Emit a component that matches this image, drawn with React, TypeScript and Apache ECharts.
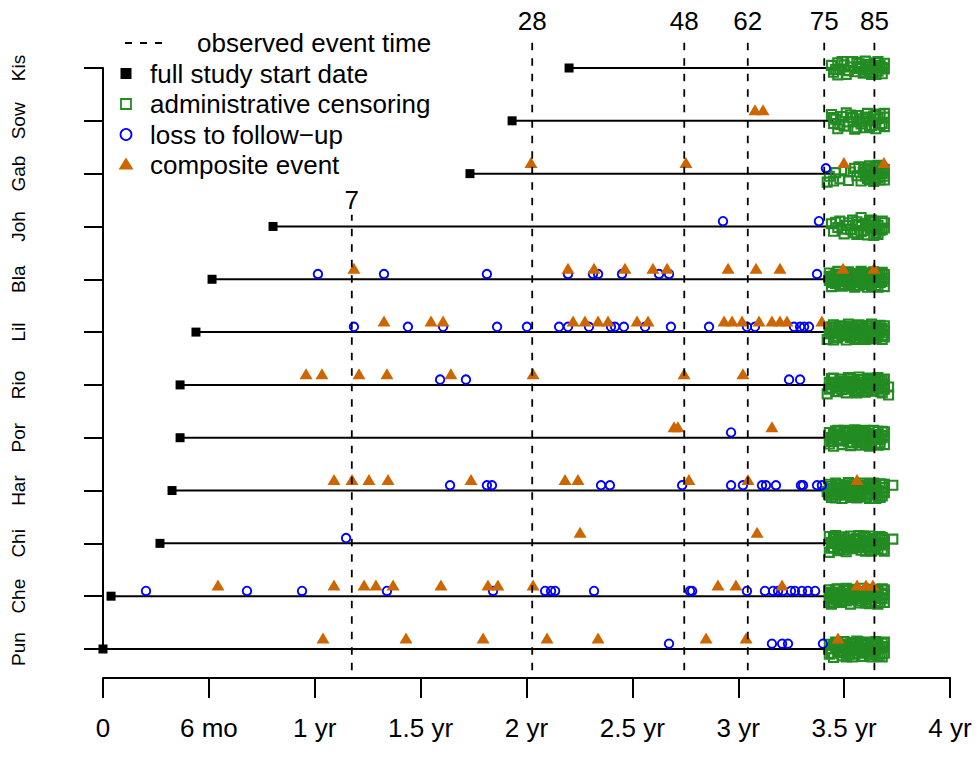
import React, { useEffect, useRef } from "react";
import * as echarts from "echarts";

// Sites, bottom (row 1) to top (row 12)
const sites = ["Pun", "Che", "Chi", "Har", "Por", "Rio", "Lil", "Bla", "Joh", "Gab", "Sow", "Kis"];

// Full study start date (years)
const startDates = [0.0, 0.038, 0.269, 0.326, 0.364, 0.364, 0.439, 0.515, 0.803, 1.733, 1.932, 2.201];
// End of follow-up line (years)
const followEnd = [3.45, 3.45, 3.45, 3.45, 3.45, 3.45, 3.45, 3.45, 3.45, 3.45, 3.45, 3.45];

// Loss to follow-up times (years), per site
const lossTimes = [
  [2.673, 3.159, 3.207, 3.235, 3.4],
  [0.203, 0.68, 0.94, 1.341, 1.842, 2.088, 2.116, 2.135, 2.319, 2.772, 2.782, 3.041, 3.126, 3.164, 3.188, 3.211, 3.249, 3.268, 3.301, 3.329, 3.363],
  [1.148],
  [1.639, 1.813, 1.837, 2.352, 2.394, 2.735, 2.966, 3.022, 3.112, 3.131, 3.178, 3.296, 3.306, 3.372, 3.395],
  [2.966],
  [1.592, 1.714, 3.24, 3.292],
  [1.185, 1.44, 1.606, 1.861, 2.002, 2.154, 2.196, 2.295, 2.399, 2.418, 2.46, 2.56, 2.682, 2.862, 3.041, 3.079, 3.263, 3.292, 3.311, 3.334],
  [1.015, 1.327, 1.813, 2.196, 2.314, 2.338, 2.451, 2.626, 2.673, 3.372],
  [2.928, 3.381],
  [3.414],
  [],
  [],
];

// Composite event times (years), per site
const eventTimes = [
  [1.039, 1.431, 1.795, 2.097, 2.338, 2.848, 3.037, 3.471],
  [0.543, 1.091, 1.233, 1.289, 1.37, 1.596, 1.818, 1.865, 2.031, 2.904, 2.989, 3.207, 3.561, 3.603, 3.636],
  [2.253, 3.089],
  [1.091, 1.176, 1.256, 1.346, 1.738, 2.182, 2.243, 2.767, 3.046, 3.561],
  [2.697, 2.715, 3.159],
  [0.959, 1.034, 1.209, 1.341, 1.643, 2.031, 2.744, 3.022],
  [1.327, 1.549, 1.606, 2.22, 2.276, 2.338, 2.385, 2.522, 2.574, 2.933, 2.971, 3.018, 3.098, 3.159, 3.197, 3.23, 3.395],
  [1.185, 2.196, 2.319, 2.465, 2.597, 2.664, 2.952, 3.084, 3.197, 3.495, 3.641],
  [],
  [2.021, 2.753, 3.499, 3.688],
  [3.079, 3.117],
  [],
];

// Administrative censoring: [time (years), vertical jitter (rows)]
const censorPun = [[3.43,0.09],[3.43,-0.10],[3.44,0.00],[3.45,-0.16],[3.46,0.13],[3.47,-0.05],[3.48,0.07],[3.49,-0.13],[3.50,0.14],[3.51,0.01],[3.52,-0.10],[3.53,0.10],[3.54,-0.15],[3.55,0.04],[3.56,0.15],[3.57,-0.08],[3.58,0.08],[3.59,-0.14],[3.60,0.02],[3.61,0.13],[3.62,-0.11],[3.63,0.06],[3.64,-0.04],[3.65,0.14],[3.66,-0.14],[3.67,0.03],[3.68,0.11],[3.69,-0.08],[3.68,-0.15],[3.45,0.07],[3.48,-0.07],[3.51,-0.15],[3.54,0.12],[3.57,0.02],[3.60,-0.07],[3.63,-0.15],[3.66,0.08],[3.69,0.04],[3.47,0.11],[3.53,-0.03],[3.59,0.11],[3.62,0.00],[3.65,-0.09],
  [3.44,-0.08],[3.46,0.04],[3.49,0.03],[3.50,-0.06],[3.52,0.05],[3.55,-0.10],[3.56,-0.02],[3.58,-0.03],[3.61,-0.06],[3.64,0.10],[3.66,0.00],[3.67,-0.10],[3.69,0.13],[3.47,0.01],[3.54,0.00],[3.60,0.09],[3.63,0.00],[3.57,0.13],[3.51,0.09],[3.68,0.03]];
const censorChe = [[3.43,-0.03],[3.43,0.12],[3.44,-0.15],[3.45,0.05],[3.46,-0.07],[3.47,0.14],[3.48,-0.12],[3.49,0.02],[3.50,0.11],[3.51,-0.09],[3.52,0.06],[3.53,-0.15],[3.54,0.13],[3.55,-0.01],[3.56,0.09],[3.57,-0.13],[3.58,0.04],[3.59,0.15],[3.60,-0.06],[3.61,0.10],[3.62,-0.14],[3.63,0.01],[3.64,0.13],[3.65,-0.10],[3.66,0.06],[3.67,-0.04],[3.68,0.14],[3.69,-0.12],[3.69,0.03],[3.45,-0.11],[3.48,0.08],[3.51,0.15],[3.54,-0.07],[3.57,0.07],[3.60,0.03],[3.63,-0.11],[3.66,-0.15],[3.68,-0.05],[3.46,0.13],[3.52,-0.03],[3.58,-0.09],[3.64,0.09],[3.55,0.12],
  [3.44,0.07],[3.46,0.02],[3.47,-0.04],[3.49,-0.08],[3.50,0.00],[3.53,0.05],[3.56,-0.05],[3.57,0.01],[3.59,0.05],[3.61,-0.02],[3.62,0.08],[3.65,0.02],[3.66,0.11],[3.67,-0.12],[3.69,0.12],[3.43,-0.12],[3.52,0.12],[3.60,-0.13],[3.63,0.07],[3.68,0.06]];
const censorChi = [[3.43,0.13],[3.43,-0.17],[3.44,0.02],[3.45,-0.08],[3.46,0.15],[3.47,-0.14],[3.48,0.05],[3.49,-0.04],[3.50,0.12],[3.51,-0.16],[3.52,0.03],[3.53,0.14],[3.54,-0.10],[3.55,0.07],[3.56,-0.02],[3.57,0.15],[3.58,-0.13],[3.59,0.04],[3.60,0.11],[3.61,-0.07],[3.62,0.14],[3.63,-0.15],[3.64,0.01],[3.65,0.09],[3.66,-0.11],[3.67,0.13],[3.68,-0.03],[3.69,0.07],[3.69,-0.15],[3.73,0.08],[3.45,0.09],[3.48,-0.11],[3.51,0.08],[3.54,0.00],[3.57,-0.08],[3.60,-0.15],[3.63,0.06],[3.66,0.10],[3.68,-0.12],[3.47,-0.02],[3.53,-0.06],[3.59,0.14],[3.62,-0.05],[3.50,-0.12],
  [3.44,-0.09],[3.46,0.04],[3.48,0.12],[3.49,0.07],[3.52,-0.08],[3.55,-0.06],[3.56,0.10],[3.58,0.00],[3.61,0.06],[3.62,-0.12],[3.64,-0.08],[3.65,-0.03],[3.67,0.00],[3.69,0.01],[3.51,0.00],[3.57,0.05],[3.60,0.02],[3.66,-0.02],[3.68,0.11],[3.45,0.00]];
const censorHar = [[3.42,-0.02],[3.43,0.12],[3.44,-0.13],[3.45,0.04],[3.46,0.14],[3.47,-0.08],[3.48,0.07],[3.49,-0.15],[3.50,0.11],[3.51,-0.03],[3.52,0.15],[3.53,-0.11],[3.54,0.03],[3.55,0.13],[3.56,-0.14],[3.57,0.06],[3.58,-0.05],[3.59,0.14],[3.60,-0.12],[3.61,0.02],[3.62,0.12],[3.63,-0.07],[3.64,0.08],[3.65,-0.15],[3.66,0.01],[3.67,0.13],[3.68,-0.10],[3.69,0.06],[3.69,-0.04],[3.73,0.10],[3.44,0.08],[3.47,0.02],[3.50,-0.09],[3.53,0.08],[3.56,-0.03],[3.59,0.04],[3.62,-0.15],[3.65,0.10],[3.68,0.12],[3.46,-0.14],[3.52,-0.06],[3.58,0.10],[3.64,-0.05],[3.67,-0.13],
  [3.43,-0.09],[3.45,-0.07],[3.47,0.11],[3.49,0.03],[3.51,0.06],[3.53,0.00],[3.55,-0.08],[3.57,-0.11],[3.58,0.02],[3.60,0.07],[3.61,-0.08],[3.63,0.03],[3.64,0.14],[3.66,-0.09],[3.68,-0.02],[3.69,0.12],[3.54,-0.13],[3.62,0.05],[3.48,-0.04],[3.56,0.09]];
const censorPor = [[3.43,0.10],[3.43,-0.12],[3.44,0.01],[3.45,-0.16],[3.46,0.13],[3.47,-0.05],[3.48,0.07],[3.49,-0.13],[3.50,0.14],[3.51,-0.02],[3.52,0.09],[3.53,-0.15],[3.54,0.04],[3.55,0.15],[3.56,-0.09],[3.57,0.06],[3.58,-0.14],[3.59,0.12],[3.60,-0.04],[3.61,0.09],[3.62,-0.16],[3.63,0.03],[3.64,0.14],[3.65,-0.11],[3.66,0.06],[3.67,-0.03],[3.68,0.12],[3.69,-0.13],[3.69,0.04],[3.45,0.06],[3.48,-0.06],[3.51,0.11],[3.54,-0.10],[3.57,-0.01],[3.60,0.14],[3.63,-0.08],[3.66,-0.14],[3.68,0.00],[3.47,0.14],[3.53,0.01],[3.59,-0.07],[3.64,-0.03],[3.56,0.12],
  [3.44,-0.07],[3.46,0.04],[3.47,0.07],[3.49,-0.02],[3.50,0.05],[3.52,-0.08],[3.55,0.00],[3.56,0.03],[3.58,0.05],[3.61,0.00],[3.62,0.07],[3.63,-0.13],[3.65,0.02],[3.66,0.12],[3.67,-0.10],[3.69,0.11],[3.48,0.13],[3.54,0.10],[3.60,-0.11],[3.45,-0.03]];
const censorRio = [[3.42,-0.17],[3.43,0.05],[3.44,-0.06],[3.45,0.13],[3.46,-0.13],[3.47,0.02],[3.48,0.11],[3.49,-0.09],[3.50,0.07],[3.51,-0.15],[3.52,0.14],[3.53,-0.03],[3.54,0.08],[3.55,-0.12],[3.56,0.01],[3.57,0.15],[3.58,-0.07],[3.59,0.10],[3.60,-0.14],[3.61,0.04],[3.62,0.13],[3.63,-0.10],[3.64,0.06],[3.65,-0.04],[3.66,0.14],[3.67,-0.13],[3.68,0.02],[3.69,0.11],[3.69,-0.08],[3.71,-0.04],[3.71,-0.19],[3.44,0.12],[3.47,-0.12],[3.50,-0.02],[3.53,0.12],[3.56,-0.15],[3.59,0.01],[3.62,-0.06],[3.65,0.10],[3.68,-0.15],[3.46,0.05],[3.55,0.06],[3.61,-0.11],[3.67,0.07],
  [3.43,-0.08],[3.45,0.02],[3.46,-0.04],[3.48,-0.03],[3.49,0.05],[3.51,0.03],[3.52,-0.08],[3.54,-0.05],[3.57,0.05],[3.58,0.10],[3.60,0.00],[3.61,0.11],[3.63,0.03],[3.64,-0.12],[3.66,-0.05],[3.68,0.08],[3.69,0.00],[3.53,0.04],[3.57,-0.10],[3.62,0.09]];
const censorLil = [[3.42,-0.14],[3.43,0.08],[3.44,-0.03],[3.45,0.14],[3.46,-0.11],[3.47,0.03],[3.48,0.12],[3.49,-0.07],[3.50,0.06],[3.51,-0.15],[3.52,0.15],[3.53,-0.02],[3.54,0.09],[3.55,-0.12],[3.56,0.02],[3.57,0.14],[3.58,-0.08],[3.59,0.07],[3.60,-0.14],[3.61,0.12],[3.62,-0.03],[3.63,0.15],[3.64,-0.11],[3.65,0.05],[3.66,-0.06],[3.67,0.13],[3.68,-0.14],[3.69,0.03],[3.69,0.12],[3.44,0.10],[3.47,-0.08],[3.50,-0.04],[3.53,0.11],[3.56,-0.14],[3.59,-0.01],[3.62,0.08],[3.65,-0.13],[3.68,0.07],[3.45,-0.15],[3.54,-0.06],[3.58,0.12],[3.63,-0.07],[3.67,-0.01],[3.51,0.04],
  [3.43,-0.03],[3.45,0.04],[3.46,0.09],[3.48,-0.02],[3.49,0.10],[3.51,-0.07],[3.52,0.03],[3.55,0.07],[3.56,0.11],[3.57,-0.04],[3.59,-0.11],[3.60,0.04],[3.61,-0.05],[3.64,0.02],[3.65,0.11],[3.66,0.08],[3.68,-0.06],[3.69,-0.09],[3.53,-0.10],[3.62,-0.11]];
const censorBla = [[3.43,0.12],[3.43,-0.02],[3.44,-0.14],[3.45,0.06],[3.46,-0.08],[3.47,0.15],[3.48,0.01],[3.49,-0.13],[3.50,0.09],[3.51,-0.05],[3.52,0.14],[3.53,-0.12],[3.54,0.03],[3.55,-0.15],[3.56,0.11],[3.57,-0.03],[3.58,0.15],[3.59,-0.10],[3.60,0.05],[3.61,-0.15],[3.62,0.12],[3.63,-0.01],[3.64,0.14],[3.65,-0.12],[3.66,0.04],[3.67,-0.06],[3.68,0.13],[3.69,-0.14],[3.69,0.02],[3.46,0.10],[3.50,-0.01],[3.53,0.08],[3.57,-0.12],[3.60,-0.04],[3.63,0.09],[3.66,-0.15],[3.68,-0.04],[3.44,0.02],[3.55,0.04],[3.61,0.11],[3.65,0.12],[3.52,-0.09],[3.58,0.06],[3.67,0.08],
  [3.43,0.05],[3.45,-0.06],[3.47,-0.03],[3.48,0.09],[3.49,0.02],[3.51,0.11],[3.53,0.00],[3.54,-0.07],[3.56,-0.06],[3.57,0.08],[3.59,0.02],[3.60,0.12],[3.62,-0.08],[3.63,-0.12],[3.64,0.05],[3.66,0.10],[3.67,-0.01],[3.69,0.09],[3.48,-0.10],[3.58,-0.05]];
const censorJoh = [[3.44,0.05],[3.45,-0.09],[3.47,-0.02],[3.48,0.10],[3.50,-0.14],[3.51,0.02],[3.53,-0.06],[3.54,0.12],[3.55,-0.12],[3.57,0.04],[3.58,0.17],[3.59,-0.08],[3.60,0.06],[3.61,-0.16],[3.62,0.11],[3.63,-0.03],[3.64,0.08],[3.65,-0.12],[3.66,0.02],[3.67,-0.07],[3.68,0.10],[3.69,-0.03],[3.56,-0.15],[3.64,-0.17],
  [3.46,0.08],[3.49,-0.05],[3.52,0.07],[3.56,0.09],[3.58,-0.10],[3.61,0.03],[3.63,0.12],[3.66,-0.15],[3.68,-0.06],[3.69,0.07]];
const censorGab = [[3.42,-0.16],[3.43,-0.05],[3.46,0.02],[3.48,-0.10],[3.50,0.05],[3.52,-0.13],[3.55,0.10],[3.56,-0.04],[3.57,0.13],[3.58,-0.14],[3.59,0.02],[3.60,0.09],[3.61,-0.09],[3.62,0.15],[3.63,-0.02],[3.64,-0.15],[3.65,0.06],[3.66,-0.07],[3.67,0.12],[3.68,0.00],[3.69,-0.12],[3.69,0.08],[3.62,-0.12],[3.66,0.16],
  [3.45,-0.14],[3.53,0.03],[3.60,-0.05],[3.61,0.11],[3.63,0.06],[3.64,-0.08],[3.65,0.14],[3.67,-0.12],[3.68,0.10],[3.69,-0.05],[3.66,0.03]];
const censorSow = [[3.44,0.12],[3.45,-0.05],[3.46,0.03],[3.47,-0.15],[3.49,0.08],[3.50,-0.10],[3.51,0.15],[3.52,-0.02],[3.54,0.06],[3.55,-0.16],[3.56,0.10],[3.58,-0.06],[3.59,0.04],[3.60,-0.13],[3.61,0.14],[3.62,0.00],[3.63,-0.09],[3.64,0.09],[3.65,-0.15],[3.66,0.04],[3.67,0.13],[3.68,-0.05],[3.69,0.07],[3.69,-0.11],
  [3.45,0.06],[3.48,-0.07],[3.53,0.11],[3.57,-0.02],[3.60,0.07],[3.62,-0.12],[3.65,0.11],[3.67,-0.08],[3.69,0.14],[3.56,-0.13]];
const censorKis = [[3.44,0.05],[3.45,-0.08],[3.47,0.10],[3.48,-0.02],[3.50,0.06],[3.51,-0.12],[3.53,0.02],[3.55,-0.07],[3.56,0.11],[3.58,0.03],[3.59,-0.10],[3.60,0.13],[3.61,-0.03],[3.62,0.07],[3.63,-0.12],[3.64,0.02],[3.65,0.10],[3.66,-0.06],[3.67,0.05],[3.68,-0.11],[3.69,0.09],[3.69,-0.02],[3.57,-0.01],[3.62,-0.09],[3.54,0.12],
  [3.46,-0.03],[3.49,0.12],[3.52,-0.05],[3.57,0.08],[3.60,-0.07],[3.63,0.04],[3.66,0.12],[3.68,0.01],[3.65,-0.12],[3.47,-0.13]];
const censorBySite = [censorPun, censorChe, censorChi, censorHar, censorPor, censorRio, censorLil, censorBla, censorJoh, censorGab, censorSow, censorKis];

// Observed event times (vertical dashed lines) and their labels
const eventLineTimes = [1.175, 2.027, 2.745, 3.045, 3.406, 3.643];
const eventLineLabels = ["7", "28", "48", "62", "75", "85"];

// X axis tick labels (every half year)
const xTickLabels = ["0", "6 mo", "1 yr", "1.5 yr", "2 yr", "2.5 yr", "3 yr", "3.5 yr", "4 yr"];

const FONT = "'Liberation Sans', Arial, Helvetica, sans-serif";
const GREEN = "#228B22";
const BLUE = "#0000FF";
const ORANGE = "#CD6600";

export default function App() {
  const ref = useRef<HTMLDivElement>(null);

  useEffect(() => {
    if (!ref.current) return;
    const chart = echarts.init(ref.current, undefined, { renderer: "svg" });

    const series: any[] = [];

    // follow-up lines
    sites.forEach((_, i) => {
      series.push({
        type: "line",
        data: [[startDates[i], i + 1], [followEnd[i], i + 1]],
        symbol: "none",
        lineStyle: { color: "#000", width: 2 },
        silent: true,
        clip: false,
        z: 1,
      });
    });

    // start dates
    series.push({
      type: "scatter",
      data: startDates.map((x, i) => [x, i + 1]),
      symbol: "rect",
      symbolSize: 9,
      itemStyle: { color: "#000", opacity: 1 },
      clip: false,
      z: 2,
    });

    // administrative censoring
    series.push({
      type: "scatter",
      data: censorBySite.flatMap((row, i) => row.map(([x, dy]) => [x, i + 1 + dy])),
      symbol: "rect",
      symbolSize: 9,
      itemStyle: { color: "rgba(0,0,0,0)", borderColor: GREEN, borderWidth: 2.1, opacity: 1 },
      clip: false,
      z: 3,
    });

    // loss to follow-up
    series.push({
      type: "scatter",
      data: lossTimes.flatMap((row, i) => row.map((x) => [x, i + 1 + 0.1])),
      symbol: "circle",
      symbolSize: 8.5,
      itemStyle: { color: "rgba(0,0,0,0)", borderColor: BLUE, borderWidth: 1.9, opacity: 1 },
      clip: false,
      z: 4,
    });

    // composite events
    series.push({
      type: "scatter",
      data: eventTimes.flatMap((row, i) => row.map((x) => [x, i + 1 + 0.21])),
      symbol: "triangle",
      symbolSize: [13, 11],
      itemStyle: { color: ORANGE, opacity: 1 },
      clip: false,
      z: 5,
    });

    // observed event time lines
    eventLineTimes.forEach((t, k) => {
      const top = k === 0 ? 9.22 : 12.53;
      series.push({
        type: "line",
        data: [[t, 0.6], [t, top]],
        symbol: "none",
        lineStyle: { color: "#000", width: 1.8, type: [7.5, 8] },
        silent: true,
        clip: false,
        z: 6,
      });
    });

    // labels of event lines
    series.push({
      type: "scatter",
      data: eventLineTimes.map((t, k) => ({
        value: [t, k === 0 ? 9.5 : 12.89],
        label: { formatter: eventLineLabels[k] },
      })),
      symbolSize: 0,
      itemStyle: { opacity: 1 },
      label: {
        show: true,
        position: "inside",
        color: "#000",
        fontSize: 26,
        fontFamily: FONT,
      },
      clip: false,
      silent: true,
      z: 7,
    });

    const legendTextStyle = (text: string, x: number, y: number) => ({
      type: "text",
      x,
      y,
      style: {
        text,
        fill: "#000",
        fontSize: 26,
        fontFamily: FONT,
        align: "left",
        verticalAlign: "middle",
      },
      z: 10,
    });

    const legendRows = [43, 73.5, 104, 134.5, 164.5];

    const graphic: any[] = [
      {
        type: "line",
        shape: { x1: 125, y1: legendRows[0], x2: 166, y2: legendRows[0] },
        style: { stroke: "#000", lineWidth: 1.8, lineDash: [7, 8] },
        z: 10,
      },
      legendTextStyle("observed event time", 197, legendRows[0]),
      {
        type: "rect",
        shape: { x: 120.5, y: legendRows[1] - 5.5, width: 11, height: 11 },
        style: { fill: "#000" },
        z: 10,
      },
      legendTextStyle("full study start date", 150, legendRows[1]),
      {
        type: "rect",
        shape: { x: 121, y: legendRows[2] - 5, width: 10, height: 10 },
        style: { fill: "none", stroke: GREEN, lineWidth: 1.8 },
        z: 10,
      },
      legendTextStyle("administrative censoring", 150, legendRows[2]),
      {
        type: "circle",
        shape: { cx: 126, cy: legendRows[3], r: 5.5 },
        style: { fill: "none", stroke: BLUE, lineWidth: 1.8 },
        z: 10,
      },
      legendTextStyle("loss to follow\u2212up", 150, legendRows[3]),
      {
        type: "polygon",
        shape: {
          points: [
            [126, legendRows[4] - 7],
            [133.5, legendRows[4] + 5],
            [118.5, legendRows[4] + 5],
          ],
        },
        style: { fill: ORANGE },
        z: 10,
      },
      legendTextStyle("composite event", 150, legendRows[4]),
    ];

    chart.setOption({
      animation: false,
      backgroundColor: "#fff",
      textStyle: { fontFamily: FONT },
      grid: { left: 103, right: 29, top: 68, bottom: 110, containLabel: false },
      xAxis: {
        type: "value",
        min: 0,
        max: 4,
        interval: 0.5,
        offset: 29,
        axisLine: { show: true, lineStyle: { color: "#000", width: 2 } },
        axisTick: { show: true, length: 20, lineStyle: { color: "#000", width: 2 } },
        axisLabel: {
          color: "#000",
          fontSize: 26,
          fontFamily: FONT,
          margin: 37,
          formatter: (v: number) => xTickLabels[Math.round(v / 0.5)] ?? "",
        },
        splitLine: { show: false },
      },
      yAxis: {
        type: "value",
        min: 1,
        max: 12,
        interval: 1,
        offset: 34,
        axisLine: { show: true, lineStyle: { color: "#000", width: 2 } },
        axisTick: { show: true, length: 19, lineStyle: { color: "#000", width: 2 } },
        axisLabel: {
          color: "#000",
          fontSize: 19,
          fontFamily: FONT,
          rotate: 90,
          margin: 41,
          formatter: (v: number) => sites[Math.round(v) - 1] ?? "",
        },
        splitLine: { show: false },
      },
      series,
      graphic,
    });

    return () => chart.dispose();
  }, []);

  return (
    <div
      ref={ref}
      style={{ position: "fixed", left: 0, top: 0, width: 979, height: 759, background: "#fff" }}
    />
  );
}
